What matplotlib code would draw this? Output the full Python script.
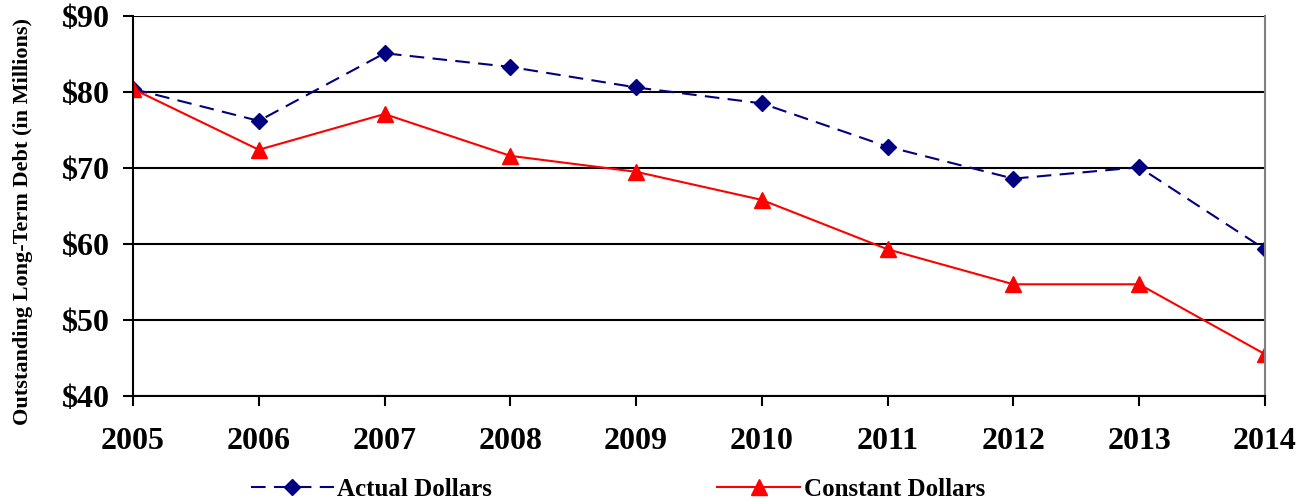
import numpy as np
import matplotlib.pyplot as plt

years = [2005, 2006, 2007, 2008, 2009, 2010, 2011, 2012, 2013, 2014]
actual = [80.4, 76.2, 85.1, 83.3, 80.6, 78.5, 72.8, 68.6, 70.1, 59.3]
constant = [80.4, 72.4, 77.1, 71.6, 69.5, 65.8, 59.3, 54.7, 54.7, 45.5]
yticks = [40, 50, 60, 70, 80, 90]

plt.rcParams['font.family'] = ['Liberation Serif', 'DejaVu Serif']
plt.rcParams['font.weight'] = 'bold'

fig = plt.figure(figsize=(13.08, 5.04), dpi=100)
ax = fig.add_axes([133 / 1308, 1 - 396 / 504, (1265 - 133) / 1308, 380 / 504])

ax.plot(years, actual, color='#000080', linestyle=(0, (7, 4)), linewidth=1.5,
        marker='D', markersize=8, label='Actual Dollars')
ax.plot(years, constant, color='#ff0000', linestyle='-', linewidth=1.5,
        marker='^', markersize=11, label='Constant Dollars')

ax.set_xlim(2005, 2014)
ax.set_ylim(40, 90)
ax.set_xticks(years)
ax.set_xticklabels([str(y) for y in years], fontsize=23, fontweight='bold')
ax.set_yticks(yticks)
ax.set_yticklabels(['$%d' % v for v in yticks], fontsize=23, fontweight='bold')
ax.tick_params(axis='both', direction='out', length=7, width=1.5, color='black')
ax.tick_params(axis='x', pad=15)
ax.tick_params(axis='y', pad=10)

ax.grid(axis='y', color='black', linewidth=1.5)
ax.set_axisbelow(True)
ax.spines['top'].set_visible(False)
ax.spines['left'].set_linewidth(1.5)
ax.spines['bottom'].set_linewidth(1.5)
ax.spines['right'].set_color('#808080')
ax.spines['right'].set_linewidth(1.5)

ax.set_ylabel('Outstanding Long-Term Debt (in Millions)', fontsize=16, fontweight='bold')
ax.yaxis.set_label_coords(-100 / 1132, 0.46)

fig.legend(loc='center', bbox_to_anchor=(618 / 1308, 1 - 489 / 504), ncol=2, frameon=False,
           prop={'size': 18, 'weight': 'bold'}, handlelength=3.3, columnspacing=9.0,
           handletextpad=0.15)

fig.savefig('out.png', dpi=100)
